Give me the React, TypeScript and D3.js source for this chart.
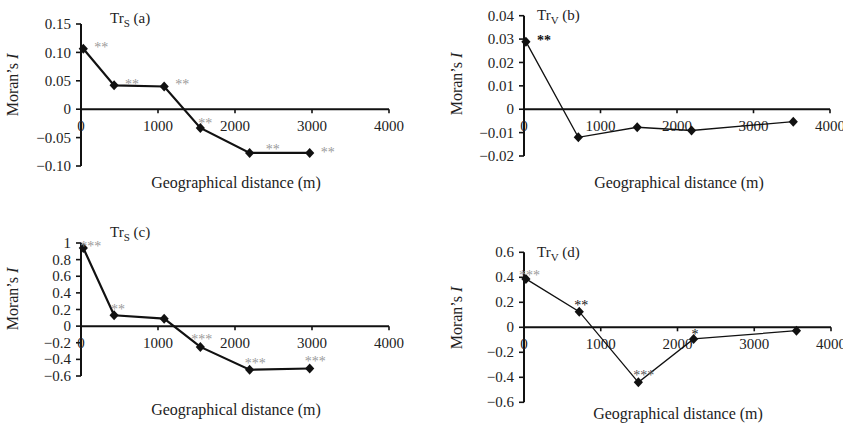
import React from "react";
import * as d3 from "d3";

// Correlogram data: Moran's I against geographical distance classes (m)
const distS = [30, 430, 1080, 1550, 2190, 2970];
const moranA = [0.1065, 0.042, 0.04, -0.033, -0.077, -0.077];
const sigA = ["**", "**", "**", "**", "**", "**"];
const moranC = [0.94, 0.13, 0.09, -0.25, -0.525, -0.51];
const sigC = ["***", "**", "", "***", "***", "***"];

const distVB = [25, 710, 1480, 2190, 3520];
const moranB = [0.0289, -0.012, -0.0077, -0.0091, -0.0053];
const sigB = ["**", "", "", "", ""];

const distVD = [25, 720, 1490, 2210, 3550];
const moranD = [0.387, 0.125, -0.44, -0.093, -0.027];
const sigD = ["***", "**", "***", "*", ""];

const xTicks = [0, 1000, 2000, 3000, 4000];
const yTicksA = [0.15, 0.1, 0.05, 0, -0.05, -0.1];
const yLabelsA = ["0.15", "0.10", "0.05", "0", "\u22120.05", "\u22120.10"];
const yTicksB = [0.04, 0.03, 0.02, 0.01, 0, -0.01, -0.02];
const yLabelsB = ["0.04", "0.03", "0.02", "0.01", "0", "\u22120.01", "\u22120.02"];
const yTicksC = [1, 0.8, 0.6, 0.4, 0.2, 0, -0.2, -0.4, -0.6];
const yLabelsC = ["1", "0.8", "0.6", "0.4", "0.2", "0", "\u22120.2", "\u22120.4", "\u22120.6"];
const yTicksD = [0.6, 0.4, 0.2, 0, -0.2, -0.4, -0.6];
const yLabelsD = ["0.6", "0.4", "0.2", "0", "\u22120.2", "\u22120.4", "\u22120.6"];

const FONT = "Liberation Serif, DejaVu Serif, serif";

type Panel = {
  sub: string;
  letter: string;
  dist: number[];
  moran: number[];
  sig: string[];
  sigColor: string[];
  sigBold: boolean;
  sigOffset: [number, number][];
  yTicks: number[];
  yLabels: string[];
  yDomain: [number, number];
  xRange: [number, number];
  yRange: [number, number];
  lineWidth: number;
  title: [number, number];
  yTitle: [number, number];
  xTitle: [number, number];
};

const panels: Panel[] = [
  {
    sub: "S", letter: "(a)", dist: distS, moran: moranA, sig: sigA,
    sigColor: ["#9a9a9a", "#9a9a9a", "#9a9a9a", "#9a9a9a", "#9a9a9a", "#9a9a9a"],
    sigBold: false,
    sigOffset: [[11, -4], [11, -4], [11, -5], [-2, -7], [16, -6], [11, -3]],
    yTicks: yTicksA, yLabels: yLabelsA, yDomain: [-0.1, 0.15],
    xRange: [81, 389], yRange: [166, 24], lineWidth: 2.2,
    title: [110, 23], yTitle: [18, 85], xTitle: [236, 188],
  },
  {
    sub: "V", letter: "(b)", dist: distVB, moran: moranB, sig: sigB,
    sigColor: ["#111", "#111", "#111", "#111", "#111"],
    sigBold: true,
    sigOffset: [[11, -4], [0, 0], [0, 0], [0, 0], [0, 0]],
    yTicks: yTicksB, yLabels: yLabelsB, yDomain: [-0.02, 0.04],
    xRange: [524, 830], yRange: [156, 15.7], lineWidth: 1.3,
    title: [537, 20], yTitle: [462, 84], xTitle: [679, 188],
  },
  {
    sub: "S", letter: "(c)", dist: distS, moran: moranC, sig: sigC,
    sigColor: ["#9a9a9a", "#9a9a9a", "#9a9a9a", "#9a9a9a", "#9a9a9a", "#9a9a9a"],
    sigBold: false,
    sigOffset: [[-3, -4], [-3, -9], [0, 0], [-9, -10], [-5, -9], [-5, -10]],
    yTicks: yTicksC, yLabels: yLabelsC, yDomain: [-0.6, 1],
    xRange: [81, 389], yRange: [376, 243], lineWidth: 2.2,
    title: [110, 237], yTitle: [18, 299], xTitle: [236, 415],
  },
  {
    sub: "V", letter: "(d)", dist: distVD, moran: moranD, sig: sigD,
    sigColor: ["#9a9a9a", "#111", "#555", "#111", "#111"],
    sigBold: false,
    sigOffset: [[-7, -6], [-5, -9], [-5, -10], [-2, -7], [0, 0]],
    yTicks: yTicksD, yLabels: yLabelsD, yDomain: [-0.6, 0.6],
    xRange: [524, 831], yRange: [402.3, 252.3], lineWidth: 1.3,
    title: [537, 257], yTitle: [462, 318], xTitle: [678, 419],
  },
];

function diamond(x: number, y: number) {
  return `M${x},${y - 5}L${x + 4.6},${y}L${x},${y + 5}L${x - 4.6},${y}Z`;
}

function CorrelogramPanel({ p }: { p: Panel }) {
  const x = d3.scaleLinear().domain([0, 4000]).range(p.xRange);
  const y = d3.scaleLinear().domain(p.yDomain).range(p.yRange);
  const y0 = y(0);
  const pts = p.dist.map((d, i) => [x(d), y(p.moran[i])] as [number, number]);
  const line = d3.line()(pts) || "";
  const yTop = y(p.yDomain[1]);
  const yBot = y(p.yDomain[0]);

  return (
    <g fontFamily={FONT}>
      {/* y axis */}
      <line x1={x(0)} x2={x(0)} y1={yTop} y2={yBot} stroke="#111" strokeWidth={2} />
      {p.yTicks.map((t, i) => (
        <g key={"y" + i}>
          <line x1={x(0) - 5} x2={x(0)} y1={y(t)} y2={y(t)} stroke="#111" strokeWidth={1.6} />
          <text x={x(0) - 10} y={y(t)} dy="0.34em" textAnchor="end" fontSize={15} fill="#222" fontFamily={FONT}>
            {p.yLabels[i]}
          </text>
        </g>
      ))}
      {/* x axis at zero */}
      <line x1={x(0)} x2={x(4000)} y1={y0} y2={y0} stroke="#111" strokeWidth={2} />
      {xTicks.map((t) => (
        <g key={"x" + t}>
          <line x1={x(t)} x2={x(t)} y1={y0} y2={y0 + 4} stroke="#111" strokeWidth={1.6} />
          <text x={x(t)} y={y0 + 22} textAnchor="middle" fontSize={15} fill="#222" fontFamily={FONT}>
            {t}
          </text>
        </g>
      ))}
      {/* series */}
      <path d={line} fill="none" stroke="#111" strokeWidth={p.lineWidth} />
      {pts.map(([px, py], i) => (
        <path key={"m" + i} d={diamond(px, py)} fill="#111" />
      ))}
      {p.sig.map((s, i) =>
        s ? (
          <text
            key={"s" + i}
            x={pts[i][0] + p.sigOffset[i][0]}
            y={pts[i][1] + p.sigOffset[i][1] + 7.5}
            fontSize={14}
            fontFamily={FONT}
            fontWeight={p.sigBold ? "bold" : "normal"}
            fill={p.sigColor[i]}
          >
            {s}
          </text>
        ) : null
      )}
      {/* panel title */}
      <text x={p.title[0]} y={p.title[1]} fontSize={15} fill="#222" fontFamily={FONT}>
        Tr
        <tspan fontSize={11} dy={4}>{p.sub}</tspan>
        <tspan dy={-4}>{" " + p.letter}</tspan>
      </text>
      {/* axis titles */}
      <text
        transform={`translate(${p.yTitle[0]},${p.yTitle[1]}) rotate(-90)`}
        textAnchor="middle"
        fontSize={16}
        fill="#222"
        fontFamily={FONT}
      >
        Moran’s <tspan fontStyle="italic">I</tspan>
      </text>
      <text x={p.xTitle[0]} y={p.xTitle[1]} textAnchor="middle" fontSize={16} fill="#222" fontFamily={FONT}>
        Geographical distance (m)
      </text>
    </g>
  );
}

export default function App() {
  return (
    <svg
      width={843}
      height={425}
      viewBox="0 0 843 425"
      style={{ position: "absolute", left: 0, top: 0, background: "#fff" }}
    >
      <rect width={843} height={425} fill="#fff" />
      {panels.map((p) => (
        <CorrelogramPanel key={p.letter} p={p} />
      ))}
    </svg>
  );
}
